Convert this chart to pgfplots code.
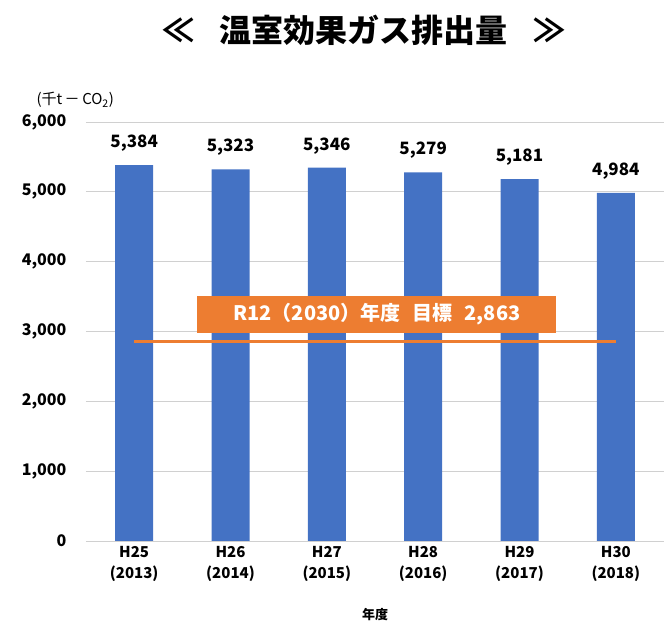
\documentclass[border=0pt]{standalone}
\usepackage{pgfplots}
\pgfplotsset{compat=1.18}
\usepackage{fontspec}
\setmainfont{Noto Sans CJK JP}
\definecolor{barblue}{HTML}{4472C4}
\definecolor{orng}{HTML}{ED7D31}
\definecolor{gridc}{HTML}{D0D0D0}
\begin{document}
\begin{tikzpicture}[x=1pt,y=1pt]
\useasboundingbox (-86,-82) rectangle (586,541);
\begin{axis}[
  at={(0,0)}, anchor=south west,
  scale only axis, width=578pt, height=419pt,
  xmin=-0.5, xmax=5.5, ymin=0, ymax=6000,
  axis line style={draw=none},
  ymajorgrids, grid style={gridc, line width=0.8pt},
  major tick length=0pt,
  ytick={0,1000,2000,3000,4000,5000,6000},
  /pgf/number format/assume math mode=true,
  /pgf/number format/1000 sep={,},
  scaled y ticks=false,
  yticklabel style={font=\fontsize{16}{18}\selectfont\bfseries, xshift=-16pt},
  xtick={0,1,2,3,4,5},
  xticklabels={{H25\\(2013)},{H26\\(2014)},{H27\\(2015)},{H28\\(2016)},{H29\\(2017)},{H30\\(2018)}},
  xticklabel style={font=\fontsize{15}{21}\selectfont\bfseries, align=center, yshift=-2pt},
  xlabel={年度}, xlabel style={font=\fontsize{13}{15}\selectfont\bfseries, yshift=-20pt},
  clip=false,
]
\addplot[ybar, bar width=38pt, fill=barblue, draw=none,
  nodes near coords, nodes near coords style={font=\fontsize{17}{19}\selectfont\bfseries, yshift=10pt, /pgf/number format/1000 sep={,}}]
  coordinates {(0,5384) (1,5323) (2,5346) (3,5279) (4,5181) (5,4984)};
\addplot[orng, line width=3pt, forget plot] coordinates {(0,2863) (5,2863)};
\node[fill=orng, text=white, font=\fontsize{20}{22}\selectfont\bfseries, minimum width=359pt, minimum height=37pt, inner sep=0pt] at (axis cs:2.52,3243) {R12（2030）年度\hspace{0.6em}目標\hspace{0.6em}2,863};
\end{axis}
\node[font=\fontsize{15}{17}\selectfont, anchor=west] at (-53,441) {(千t\,－\,CO\textsubscript{2})};
\node[font=\fontsize{32}{36}\selectfont\bfseries] at (278,511) {≪\hspace{0.8em}温室効果ガス排出量\hspace{0.8em}≫};
\end{tikzpicture}
\end{document}
